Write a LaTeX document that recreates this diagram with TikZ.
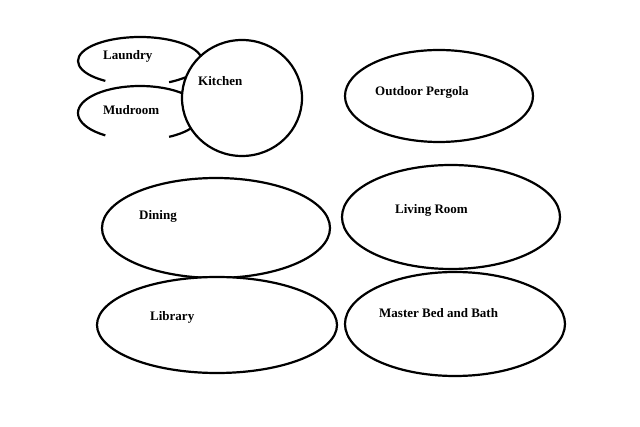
\documentclass[tikz,border=0pt]{standalone}
\usepackage{fontspec}
\setmainfont{Liberation Serif}
\usetikzlibrary{shapes.geometric,calc}
\begin{document}
\begin{tikzpicture}[x=1pt,y=-1pt,
  room/.style={draw=black,line width=2.2pt,ellipse,fill=white,inner sep=0pt},
  openroom/.style={draw=black,line width=2.2pt},
  lbl/.style={anchor=west,inner sep=0pt,font=\fontsize{13}{15}\selectfont\bfseries}]
\path[fill=white,use as bounding box] (0,0) rectangle (640,427);
% open rooms (partly covered by the kitchen)
\coordinate (laundryc) at (140,61);
\coordinate (mudc) at (140,113);
\draw[openroom] ($(laundryc)+({62*cos(124)},{24*sin(124)})$) arc[start angle=124,end angle=422,x radius=62,y radius=24];
\draw[openroom] ($(mudc)+({62*cos(124)},{27*sin(124)})$) arc[start angle=124,end angle=422,x radius=62,y radius=27];
\node[room,minimum width=120pt,minimum height=116pt] (kitchen) at (242,98) {};
\node[room,minimum width=188pt,minimum height=92pt] (pergola) at (439,96) {};
\node[room,minimum width=228pt,minimum height=100pt] (dining) at (216,228) {};
\node[room,minimum width=240pt,minimum height=96pt] (library) at (217,325) {};
\node[room,minimum width=218pt,minimum height=104pt] (living) at (451,217) {};
\node[room,minimum width=220pt,minimum height=104pt] (master) at (455,324) {};
\node[lbl] (tlaundry) at (103,56) {Laundry};
\node[lbl] (tmud) at (103,110) {Mudroom};
\node[lbl] (tkitchen) at (198,81) {Kitchen};
\node[lbl] (tpergola) at (375,92) {Outdoor Pergola};
\node[lbl] (tdining) at (139,216) {Dining};
\node[lbl] (tlibrary) at (150,317) {Library};
\node[lbl] (tliving) at (395,210) {Living Room};
\node[lbl] (tmaster) at (379,313) {Master Bed and Bath};
\end{tikzpicture}
\end{document}
